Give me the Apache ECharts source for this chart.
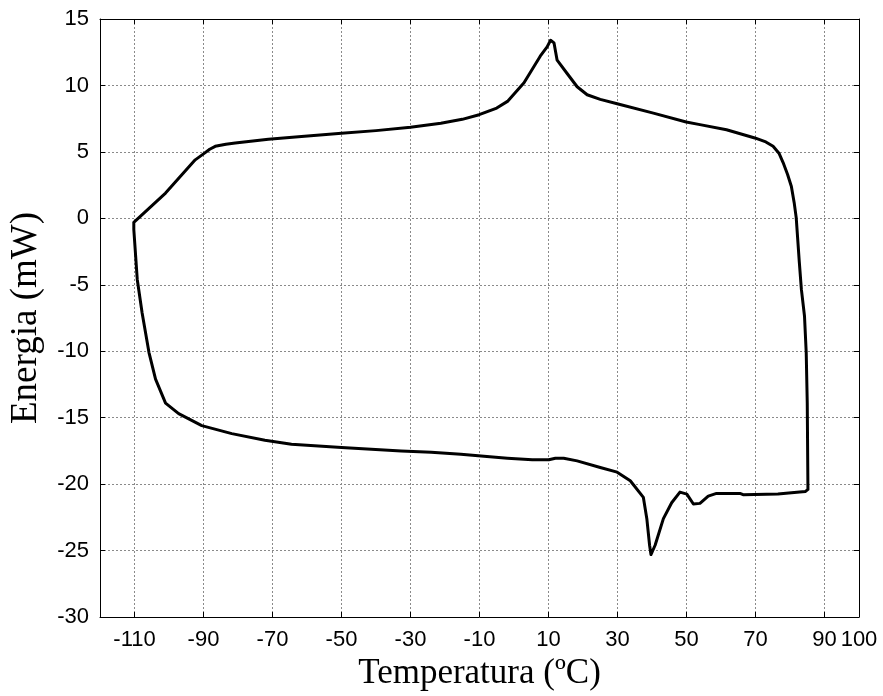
<!DOCTYPE html>
<html>
<head>
<meta charset="utf-8">
<script src="https://cdn.jsdelivr.net/npm/echarts@6/dist/echarts.min.js"></script>
<style>
  html, body { margin: 0; padding: 0; background: #fff; }
  #chart { width: 883px; height: 696px; }
</style>
</head>
<body>
<div id="chart"></div>
<script>
// DSC loop: temperature (ºC) and energy (mW), traced in order around the cycle
const tempC = [
  -110.2, -101.0, -92.4, -90.0, -88.2, -86.6, -83.5, -80.8, -71.2, -61.6, -50.0, -40.0,
  -30.0, -21.2, -15.0, -10.1, -5.0, -1.9, 2.9, 7.6, 9.6, 10.6,
  11.6, 12.5, 15.4, 18.3, 21.2, 25.0, 29.9, 40.4, 49.9, 53.9,
  61.6, 69.8, 73.0, 75.1, 76.8, 78.0, 79.3, 80.4, 81.2, 81.8,
  82.7, 83.3, 84.2, 84.7, 85.0, 85.2, 84.5, 82.8, 76.5, 66.4,
  65.5, 58.7, 56.3, 53.9, 52.0, 50.1, 48.1, 45.7, 43.3, 40.9,
  39.7, 39.3, 38.5, 37.5, 33.7, 29.9, 25.0, 18.3, 14.4, 12.0,
  10.1, 5.3, -1.9, -8.7, -15.4, -24.0, -32.7, -50.0, -64.5, -72.2,
  -81.8, -90.5, -97.2, -101.0, -103.9, -105.8, -107.8, -109.2, -110.2, -110.2
];
const energiaMW = [
  -0.3, 1.9, 4.4, 4.85, 5.2, 5.42, 5.58, 5.67, 5.95, 6.15, 6.4, 6.6,
  6.85, 7.15, 7.45, 7.8, 8.3, 8.8, 10.2, 12.2, 12.9, 13.4,
  13.2, 11.9, 10.9, 9.9, 9.3, 8.95, 8.62, 7.92, 7.25, 7.05,
  6.67, 6.05, 5.75, 5.42, 4.9, 4.2, 3.3, 2.4, 1.2, 0.05,
  -3.3, -5.35, -7.35, -10.1, -13.9, -20.4, -20.55, -20.6, -20.75, -20.8,
  -20.7, -20.7, -20.9, -21.45, -21.5, -20.75, -20.6, -21.4, -22.6, -24.6,
  -25.3, -24.6, -22.6, -21.0, -19.75, -19.1, -18.75, -18.25, -18.05, -18.05,
  -18.17, -18.17, -18.05, -17.9, -17.75, -17.6, -17.5, -17.25, -17.0, -16.7,
  -16.2, -15.6, -14.7, -13.9, -12.1, -10.1, -7.1, -4.6, -0.84, -0.3
];
// Tick positions
const xTicks = [-110, -90, -70, -50, -30, -10, 10, 30, 50, 70, 90, 100];
const yTicks = [-30, -25, -20, -15, -10, -5, 0, 5, 10, 15];

const points = tempC.map((t, i) => [t, energiaMW[i]]);

const chart = echarts.init(document.getElementById('chart'), null, { renderer: 'canvas' });

const sansFont = '"Liberation Sans", Arial, sans-serif';
const serifFont = '"Liberation Serif", "Times New Roman", serif';
const gridLine = { show: true, lineStyle: { color: '#8a8a8a', width: 1, type: [2, 2] } };
const boxLine = { show: true, onZero: false, lineStyle: { color: '#000', width: 1 } };
const inTick = (vals) => ({ show: true, inside: true, length: 5, customValues: vals, lineStyle: { color: '#000', width: 1 } });

chart.setOption({
  animation: false,
  backgroundColor: '#fff',
  grid: { left: 99, right: 24, top: 19, bottom: 78, containLabel: false },
  xAxis: [
    {
      type: 'value', position: 'bottom', min: -120, max: 100,
      axisLine: boxLine,
      axisTick: inTick(xTicks),
      axisLabel: { customValues: xTicks, color: '#000', fontFamily: sansFont, fontSize: 22, margin: 12, hideOverlap: false },
      splitLine: gridLine,
      name: 'Temperatura (ºC)', nameLocation: 'middle', nameGap: 39,
      nameTextStyle: { color: '#000', fontFamily: serifFont, fontSize: 35 }
    },
    {
      type: 'value', position: 'top', min: -120, max: 100,
      axisLine: boxLine,
      axisTick: inTick(xTicks),
      axisLabel: { show: false },
      splitLine: { show: false }
    }
  ],
  yAxis: [
    {
      type: 'value', position: 'left', min: -30, max: 15, interval: 5,
      axisLine: boxLine,
      axisTick: inTick(yTicks),
      axisLabel: { customValues: yTicks, color: '#000', fontFamily: sansFont, fontSize: 22, margin: 11 },
      splitLine: gridLine,
      name: 'Energia (mW)', nameLocation: 'middle', nameGap: 55,
      nameTextStyle: { color: '#000', fontFamily: serifFont, fontSize: 37 }
    },
    {
      type: 'value', position: 'right', min: -30, max: 15, interval: 5,
      axisLine: boxLine,
      axisTick: inTick(yTicks),
      axisLabel: { show: false },
      splitLine: { show: false }
    }
  ],
  series: [
    {
      type: 'line',
      data: points,
      xAxisIndex: 0, yAxisIndex: 0,
      showSymbol: false, symbol: 'none',
      smooth: false,
      lineStyle: { color: '#000', width: 3, join: 'round', cap: 'round' },
      z: 5
    }
  ]
});
</script>
</body>
</html>
